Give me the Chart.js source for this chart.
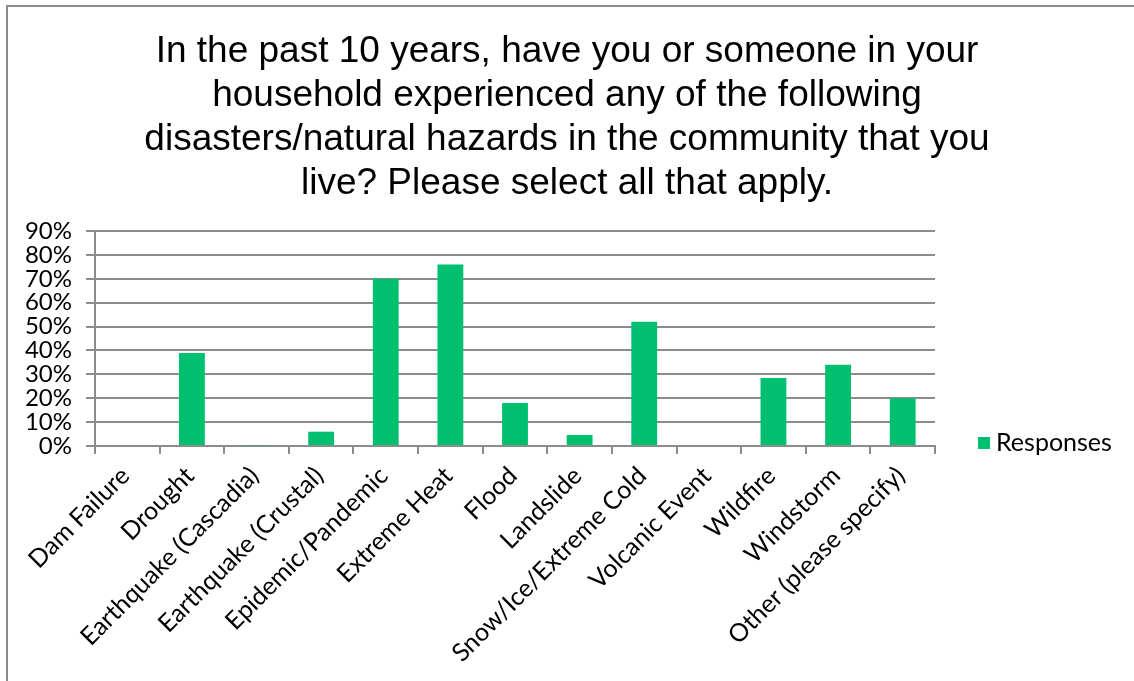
<!DOCTYPE html>
<html>
<head>
<meta charset="utf-8">
<script src="https://cdn.jsdelivr.net/npm/chart.js@4/dist/chart.umd.min.js"></script>
<style>
  html, body { margin: 0; padding: 0; background: #fff; }
  #wrap { position: relative; width: 1134px; height: 681px; }
  #frame {
    position: absolute; left: 6px; top: 5px; right: 0; bottom: -4px;
    border-top: 2px solid #8c8c8c; border-left: 2px solid #8c8c8c;
    pointer-events: none;
  }
</style>
</head>
<body>
<div id="wrap">
  <canvas id="hazardChart" width="1134" height="681"></canvas>
  <div id="frame"></div>
</div>
<script>
const titleLines = [
  "In the past 10 years, have you or someone in your",
  "household experienced any of the following",
  "disasters/natural hazards in the community that you",
  "live? Please select all that apply."
];
const categories = [
  "Dam Failure", "Drought", "Earthquake (Cascadia)", "Earthquake (Crustal)",
  "Epidemic/Pandemic", "Extreme Heat", "Flood", "Landslide",
  "Snow/Ice/Extreme Cold", "Volcanic Event", "Wildfire", "Windstorm",
  "Other (please specify)"
];
// percent of respondents
const responses = [0, 39, 0.3, 6, 70, 76, 18, 4.6, 52, 0, 28.5, 34, 20];
const seriesName = "Responses";
const yMax = 90;
const yStep = 10;

const GREEN = "#00bf6f";
const GRID = "#8c8c8c";

// single-entry legend level with the bottom of the plot, in the space right of it
const sideLegend = {
  id: "sideLegend",
  afterDraw(chart) {
    const c = chart.ctx;
    const area = chart.chartArea;
    const ds = chart.data.datasets[0];
    const x = area.right + 43;
    const y = area.bottom - 3;
    c.save();
    c.fillStyle = ds.backgroundColor;
    c.fillRect(x, y - 6, 12, 12);
    c.fillStyle = "#000";
    c.font = "25px Lato";
    c.textBaseline = "middle";
    c.fillText(ds.label, x + 18, y);
    c.restore();
  }
};

const ctx = document.getElementById("hazardChart").getContext("2d");
new Chart(ctx, {
  type: "bar",
  data: {
    labels: categories,
    datasets: [{
      label: seriesName,
      data: responses,
      backgroundColor: GREEN,
      borderWidth: 0,
      barPercentage: 0.8,
      categoryPercentage: 0.5
    }]
  },
  plugins: [sideLegend],
  options: {
    responsive: false,
    animation: false,
    layout: { padding: 0 },
    plugins: {
      title: {
        display: true,
        text: titleLines,
        color: "#000",
        font: { family: "Liberation Sans", size: 37, weight: "normal", lineHeight: 1.19 },
        padding: { top: 30, bottom: 25 }
      },
      legend: { display: false },
      tooltip: { enabled: false }
    },
    scales: {
      x: {
        offset: true,
        afterFit: s => { s.height = 235; },
        grid: {
          offset: true,
          drawOnChartArea: false,
          color: GRID,
          lineWidth: 2,
          tickLength: 8
        },
        border: { color: GRID, width: 2 },
        ticks: {
          color: "#000",
          font: { family: "Lato", size: 25 },
          maxRotation: 45,
          minRotation: 45,
          autoSkip: false,
          padding: 7,
          labelOffset: -2
        }
      },
      y: {
        min: 0,
        max: yMax,
        afterFit: s => { s.width = 95; },
        grid: { color: GRID, lineWidth: 2, tickLength: 9 },
        border: { color: GRID, width: 2 },
        ticks: {
          stepSize: yStep,
          autoSkip: false,
          color: "#000",
          font: { family: "Lato", size: 24 },
          padding: 14,
          callback: v => v + "%"
        }
      },
      // empty right-hand scale, only reserves room for the legend
      legendSpace: {
        position: "right",
        min: 0,
        max: 1,
        afterFit: s => { s.width = 199; },
        grid: { display: false },
        border: { display: false },
        ticks: { display: false }
      }
    }
  }
});
</script>
</body>
</html>
